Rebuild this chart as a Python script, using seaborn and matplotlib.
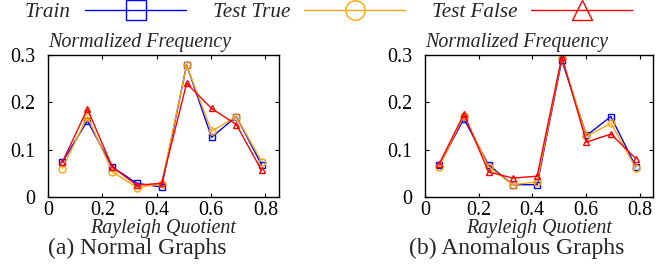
import matplotlib
matplotlib.use("Agg")
import matplotlib.pyplot as plt
import seaborn as sns
import numpy as np
from matplotlib.lines import Line2D

sns.set_theme(style="white")
plt.rcParams['font.family'] = ['Liberation Serif', 'DejaVu Serif']

x_vals = [0.053, 0.145, 0.237, 0.327, 0.418, 0.510, 0.602, 0.693, 0.786]

normal_train = [0.074, 0.161, 0.063, 0.029, 0.021, 0.279, 0.126, 0.170, 0.068]
normal_true = [0.060, 0.170, 0.053, 0.020, 0.028, 0.278, 0.139, 0.170, 0.075]
normal_false = [0.074, 0.186, 0.063, 0.025, 0.029, 0.240, 0.187, 0.153, 0.056]

anom_train = [0.067, 0.165, 0.068, 0.026, 0.026, 0.289, 0.130, 0.170, 0.064]
anom_true = [0.064, 0.172, 0.064, 0.026, 0.032, 0.294, 0.128, 0.156, 0.061]
anom_false = [0.070, 0.175, 0.053, 0.040, 0.044, 0.296, 0.116, 0.133, 0.081]

series_names = ["Train", "Test True", "Test False"]
colors = ["#0000ff", "#ffa500", "#ff0000"]
markers = ["s", "o", "^"]
x_ticks = [0, 0.2, 0.4, 0.6, 0.8]
x_ticklabels = ["0", "0.2", "0.4", "0.6", "0.8"]
y_ticks = [0, 0.1, 0.2, 0.3]
y_ticklabels = ["0", "0.1", "0.2", "0.3"]
captions = ["(a) Normal Graphs", "(b) Anomalous Graphs"]
y_title = "Normalized Frequency"
x_title = "Rayleigh Quotient"

W, H = 656, 264
fig = plt.figure(figsize=(W / 100, H / 100), dpi=100)

def px_axes(l, r, t, b):
    return fig.add_axes([l / W, 1 - b / H, (r - l) / W, (b - t) / H])

ax1 = px_axes(48, 279, 55, 197)
ax2 = px_axes(425, 653, 55, 197)

panels = [(ax1, [normal_train, normal_true, normal_false], 48, 279, 48),
          (ax2, [anom_train, anom_true, anom_false], 425, 653, 409)]

for i, (ax, data, l, r, capx) in enumerate(panels):
    for name, vals, c, m in zip(series_names, data, colors, markers):
        sns.lineplot(x=x_vals, y=vals, ax=ax, color=c, marker=m, markersize=5,
                     mfc='none', mec=c, mew=1.0, linewidth=1.0, legend=False)
    ax.set_xlim(0, 0.85)
    ax.set_ylim(0, 0.3)
    ax.set_xticks(x_ticks)
    ax.set_xticklabels(x_ticklabels)
    ax.set_yticks(y_ticks)
    ax.set_yticklabels(y_ticklabels)
    ax.tick_params(direction='in', length=3, width=0.8, top=True, right=True,
                   bottom=True, left=True, labelsize=14.4, colors='black')
    ax.tick_params(axis='y', pad=9.4)
    ax.tick_params(axis='x', pad=3)
    for s in ax.spines.values():
        s.set_color('black')
        s.set_linewidth(1.0)
    ax.set_facecolor('white')
    ax.grid(False)
    ax.set_xlabel("")
    ax.set_ylabel("")
    fig.text(l / W, 1 - 47 / H, y_title, ha='left', va='baseline',
             fontsize=14.4, style='italic')
    fig.text((l + r) / 2 / W, 1 - 233 / H, x_title, ha='center', va='baseline',
             fontsize=14.4, style='italic')
    fig.text(capx / W, 1 - 254 / H, captions[i], ha='left', va='baseline', fontsize=17)

handles = [Line2D([0], [0], color=c, marker=m, markersize=14, mfc='none', mec=c,
                  mew=1.0, linewidth=1.0) for c, m in zip(colors, markers)]
leg = fig.legend(handles, series_names, loc='center left', bbox_to_anchor=(25 / W, 1 - 12.5 / H),
                 ncol=3, frameon=False, markerfirst=False, handlelength=4.8,
                 columnspacing=1.25, handletextpad=0.66, borderaxespad=0, borderpad=0,
                 prop={'style': 'italic', 'size': 15.2})

fig.savefig("out.png", dpi=100, facecolor='white')
